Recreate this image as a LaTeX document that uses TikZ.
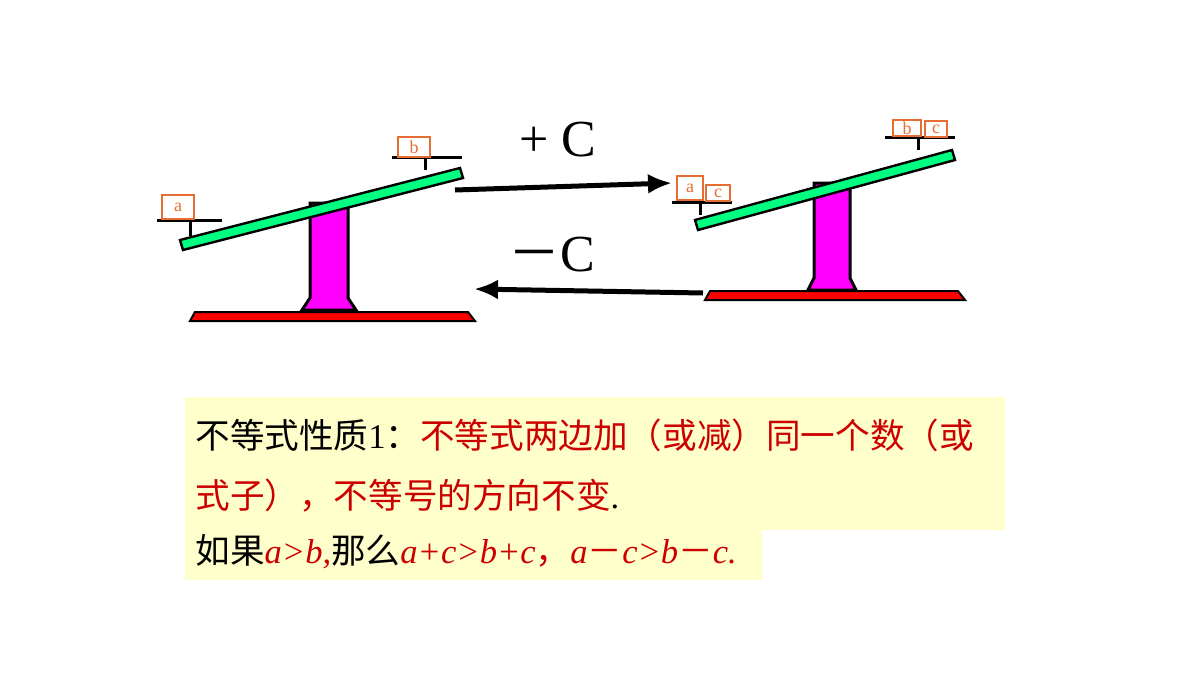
\documentclass[tikz,border=0pt]{standalone}
\usepackage{fontspec}
\setmainfont{Liberation Serif}
\newfontfamily\cjk{Noto Sans CJK SC}
\usetikzlibrary{arrows.meta}
\definecolor{pil}{RGB}{255,0,255}
\definecolor{bm}{RGB}{0,255,128}
\definecolor{wb}{RGB}{230,110,50}
\definecolor{tx}{RGB}{204,0,0}
\definecolor{bg}{RGB}{255,255,204}
\begin{document}
\begin{tikzpicture}[x=0.5pt,y=-0.5pt,
  beam/.style={draw=black,line width=1.2pt,fill=bm},
  pillar/.style={draw=black,line width=1.5pt,fill=pil},
  basep/.style={draw=black,line width=1pt,fill=red},
  pan/.style={line width=1.5pt},
  wbox/.style={draw=wb,line width=1pt,fill=white,inner sep=0pt,text=wb,font=\fontsize{9}{9}\selectfont},
  arr/.style={line width=2.5pt,-{Latex[length=12pt,width=10pt]}},
  txt/.style={anchor=base west,inner sep=0pt,font=\fontsize{17.3}{17.3}\selectfont}]
\useasboundingbox (0,0) rectangle (1200,675);
% left seesaw
\draw[basep] (195,312) -- (468,312) -- (475,321) -- (190,321) -- cycle;
\draw[pillar] (310,203) -- (348,203) -- (348,298) -- (356,310) -- (302,310) -- (310,298) -- cycle;
\draw[beam] (180,240) -- (460,168) -- (463,178) -- (183,250) -- cycle;
\draw[pan] (157,220) -- (222,220); \draw[pan] (190,220) -- (190,236);
\draw[pan] (392,157) -- (462,157); \draw[pan] (425,157) -- (425,170);
\node[wbox,minimum width=16pt,minimum height=12pt] (a1) at (178,207) {a};
\node[wbox,minimum width=16pt,minimum height=10pt] (b1) at (414,147) {b};
% right seesaw
\draw[basep] (710,291) -- (958,291) -- (965,300) -- (705,300) -- cycle;
\draw[pillar] (814,183) -- (850,183) -- (850,278) -- (856,290) -- (808,290) -- (814,278) -- cycle;
\draw[beam] (695,220) -- (952,150) -- (955,160) -- (698,230) -- cycle;
\draw[pan] (672,202) -- (732,202); \draw[pan] (700,202) -- (700,215);
\draw[pan] (885,137) -- (955,137); \draw[pan] (918,137) -- (918,150);
\node[wbox,minimum width=13pt,minimum height=12pt] (a2) at (690,188) {a};
\node[wbox,minimum width=12pt,minimum height=8pt] (c2) at (718,193) {c};
\node[wbox,minimum width=14pt,minimum height=8pt] (b2) at (907,128) {b};
\node[wbox,minimum width=11pt,minimum height=8pt] (c3) at (936,129) {c};
% arrows
\coordinate (t1) at (455,190); \coordinate (t2) at (672,183);
\coordinate (u1) at (703,293); \coordinate (u2) at (474,289);
\draw[arr] (t1) -- (t2);
\draw[arr] (u1) -- (u2);
\node[font=\fontsize{26}{26}\selectfont] (pc) at (558,140) {+ C};
\node[font=\fontsize{26}{26}\selectfont] (mc) at (552,255) {{\cjk －}C};
% text box
\fill[bg] (185,397) rectangle (1005,530);
\fill[bg] (185,530) rectangle (762,580);
\node[txt] (l1) at (195,448)
  {{\cjk 不等式性质}1{\cjk ：}\textcolor{tx}{\cjk 不等式两边加（或减）同一个数（或}};
\node[txt] (l2) at (195,508)
  {\textcolor{tx}{\cjk 式子），不等号的方向不变}.};
\node[txt] (l3) at (195,563)
  {{\cjk 如果}\textcolor{tx}{\itshape a>b,}{\cjk 那么}\textcolor{tx}{\itshape a+c>b+c{\upshape\cjk ，}a{\upshape\cjk －}c>b{\upshape\cjk －}c.}};
\end{tikzpicture}
\end{document}
